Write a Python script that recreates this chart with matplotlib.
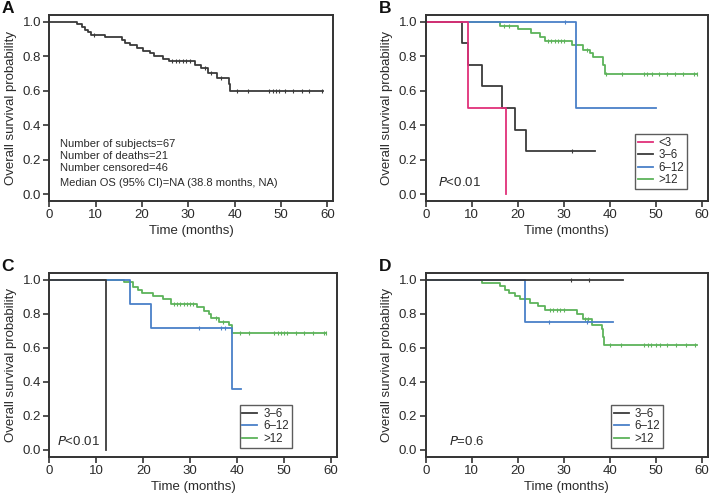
import numpy as np
import matplotlib
matplotlib.use("Agg")
import matplotlib.pyplot as plt

plt.rcParams['font.family'] = ['Liberation Sans', 'DejaVu Sans']

# colours
RED = '#e0307a'
BLACK = '#3a3a3a'
BLUE = '#4a80c8'
GREEN = '#5db35a'
TXT = '#2a2a2a'

# ---- panel A (all patients) ----
a_t = [6.0, 7.0, 7.6, 8.3, 9.1, 12.0, 15.7, 16.3, 17.4, 19.0, 20.2, 21.7, 22.7,
       24.5, 25.9, 31.4, 32.8, 34.2, 36.3, 38.7, 39.0]
a_s = [0.985, 0.970, 0.955, 0.940, 0.925, 0.910, 0.895, 0.880, 0.864, 0.849,
       0.833, 0.818, 0.802, 0.787, 0.770, 0.749, 0.730, 0.706, 0.677, 0.638, 0.597]
a_end = 59.0
a_cens = [9.6, 26.5, 27.3, 28.0, 28.8, 29.5, 30.3, 33.5, 35.0, 37.0, 40.6, 42.8,
          47.5, 48.2, 48.9, 49.6, 50.9, 52.7, 54.5, 56.1, 58.9]
a_notes = ['Number of subjects=67', 'Number of deaths=21', 'Number censored=46',
           'Median OS (95% CI)=NA (38.8 months, NA)']
a_note_y = [0.29, 0.22, 0.15, 0.065]

# ---- panel B ----
b_lt3_t = [9.3, 17.5]
b_lt3_s = [0.5, 0.0]
b_lt3_end = 17.5
b_lt3_cens = []

b_36_t = [7.8, 9.3, 12.3, 16.5, 19.4, 21.7]
b_36_s = [0.875, 0.75, 0.625, 0.5, 0.375, 0.25]
b_36_end = 36.8
b_36_cens = [31.7]

b_612_t = [32.7]
b_612_s = [0.5]
b_612_end = 50.0
b_612_cens = [30.3]

b_gt12_t = [16.2, 20.1, 22.9, 24.8, 26.0, 31.7, 34.3, 35.7, 36.4, 38.6, 38.9]
b_gt12_s = [0.978, 0.956, 0.933, 0.911, 0.889, 0.864, 0.839, 0.820, 0.797, 0.750, 0.698]
b_gt12_end = 59.0
b_gt12_cens = [17.0, 18.0, 26.6, 27.3, 28.0, 28.7, 29.4, 30.1, 35.0, 39.3, 42.6,
               47.5, 48.2, 49.2, 50.8, 52.4, 54.2, 55.9, 58.3, 59.0]

# ---- panel C ----
c_36_t = [12.05]
c_36_s = [0.0]
c_36_end = 12.05
c_36_cens = []

c_612_t = [17.2, 21.6, 38.8]
c_612_s = [0.857, 0.714, 0.357]
c_612_end = 40.9
c_612_cens = [31.8, 36.5, 37.5]

c_gt12_t = [16.0, 17.8, 18.8, 19.8, 22.0, 24.1, 25.8, 31.5, 32.9, 34.0, 34.5,
            36.1, 38.2, 38.8]
c_gt12_s = [0.983, 0.955, 0.937, 0.920, 0.904, 0.885, 0.859, 0.840, 0.817, 0.797,
            0.772, 0.748, 0.733, 0.688]
c_gt12_end = 59.0
c_gt12_cens = [26.5, 27.2, 27.9, 28.6, 29.3, 30.0, 30.6, 35.5, 37.0, 40.5, 42.5,
               47.9, 48.6, 49.3, 50.0, 50.7, 52.5, 54.3, 56.1, 58.5, 59.0]

# ---- panel D ----
d_36_t = []
d_36_s = []
d_36_end = 42.8
d_36_cens = [31.5, 35.5]

d_612_t = [21.6]
d_612_s = [0.75]
d_612_end = 40.8
d_612_cens = [26.7, 35.0]

d_gt12_t = [12.2, 16.1, 17.2, 18.0, 19.4, 20.5, 22.7, 24.5, 25.9, 32.8, 34.1,
            36.2, 38.3, 38.6, 38.8]
d_gt12_s = [0.980, 0.961, 0.941, 0.922, 0.902, 0.883, 0.863, 0.844, 0.824, 0.796,
            0.766, 0.733, 0.707, 0.660, 0.614]
d_gt12_end = 59.0
d_gt12_cens = [27.0, 27.7, 28.5, 29.3, 30.0, 34.6, 35.2, 40.0, 42.5, 47.5, 48.3,
               49.0, 50.0, 51.0, 52.5, 54.5, 56.5, 58.5]

xticks = [0, 10, 20, 30, 40, 50, 60]
yticks = [0.0, 0.2, 0.4, 0.6, 0.8, 1.0]


def km(ax, t, s, end, cens, color):
    x = [0.0] + list(t) + [end]
    y = [1.0] + list(s) + [s[-1] if len(s) else 1.0]
    ax.step(x, y, where='post', color=color, lw=1.3)
    if cens:
        cens = np.array(cens)
        idx = np.searchsorted(np.array(t), cens, side='right')
        yy = np.array([1.0] + list(s))[idx]
        ax.plot(cens, yy, ls='none', marker='|', ms=3, mew=0.8, color=color)


def style(ax, letter):
    ax.set_xlim(0, 61.3)
    ax.set_ylim(-0.04, 1.04)
    ax.set_xticks(xticks)
    ax.set_yticks(yticks)
    ax.set_yticklabels(['%.1f' % v for v in yticks])
    for sp in ax.spines.values():
        sp.set_linewidth(1.4)
        sp.set_color('#333333')
    ax.tick_params(direction='out', length=4, width=1.2, colors='#333333',
                   labelsize=9.5, labelcolor=TXT, pad=2)
    ax.set_xlabel('Time (months)', fontsize=9.5, color=TXT, labelpad=3)
    ax.set_ylabel('Overall survival probability', fontsize=9.5, color=TXT, labelpad=4)
    ax.text(-0.167, 1.035, letter, transform=ax.transAxes, fontsize=12.5,
            fontweight='bold', color='#111111', ha='left', va='center')


def legend(ax, handles, labels, x0, y0):
    leg = ax.legend(handles, labels, loc='upper left', bbox_to_anchor=(x0, y0),
                    bbox_transform=ax.transData, fontsize=8.3, fancybox=False,
                    handlelength=1.3, handletextpad=0.5, borderpad=0.25,
                    labelspacing=0.05, borderaxespad=0)
    leg.get_frame().set_edgecolor('#333333')
    leg.get_frame().set_linewidth(1.0)
    for t in leg.get_texts():
        t.set_color(TXT)


fig = plt.figure(figsize=(7.11, 5.01), dpi=100)
W, H = 711.0, 501.0
axA = fig.add_axes([49.3 / W, 1 - 201 / H, 284 / W, 186 / H])
axB = fig.add_axes([425.7 / W, 1 - 201 / H, 282 / W, 186 / H])
axC = fig.add_axes([49.3 / W, 1 - 456.7 / H, 288 / W, 184 / H])
axD = fig.add_axes([425.7 / W, 1 - 456.7 / H, 282 / W, 184 / H])

# A
km(axA, a_t, a_s, a_end, a_cens, BLACK)
for txt, yv in zip(a_notes, a_note_y):
    axA.text(2.3, yv, txt, fontsize=8, color=TXT, va='center')
style(axA, 'A')

# B
km(axB, b_gt12_t, b_gt12_s, b_gt12_end, b_gt12_cens, GREEN)
km(axB, b_612_t, b_612_s, b_612_end, b_612_cens, BLUE)
km(axB, b_36_t, b_36_s, b_36_end, b_36_cens, BLACK)
km(axB, b_lt3_t, b_lt3_s, b_lt3_end, b_lt3_cens, RED)
hB = [plt.Line2D([], [], color=c, lw=1.3) for c in [RED, BLACK, BLUE, GREEN]]
legend(axB, hB, ['<3', '3\u20136', '6\u201312', '>12'], 45.5, 0.35)
axB.text(2.7, 0.07, r'$\it{P}$<0.01', fontsize=9.5, color=TXT, va='center')
style(axB, 'B')

# C
km(axC, c_gt12_t, c_gt12_s, c_gt12_end, c_gt12_cens, GREEN)
km(axC, c_612_t, c_612_s, c_612_end, c_612_cens, BLUE)
km(axC, c_36_t, c_36_s, c_36_end, c_36_cens, BLACK)
hC = [plt.Line2D([], [], color=c, lw=1.3) for c in [BLACK, BLUE, GREEN]]
legend(axC, hC, ['3\u20136', '6\u201312', '>12'], 40.5, 0.265)
axC.text(1.6, 0.05, r'$\it{P}$<0.01', fontsize=9.5, color=TXT, va='center')
style(axC, 'C')

# D
km(axD, d_gt12_t, d_gt12_s, d_gt12_end, d_gt12_cens, GREEN)
km(axD, d_612_t, d_612_s, d_612_end, d_612_cens, BLUE)
km(axD, d_36_t, d_36_s, d_36_end, d_36_cens, BLACK)
hD = [plt.Line2D([], [], color=c, lw=1.3) for c in [BLACK, BLUE, GREEN]]
legend(axD, hD, ['3\u20136', '6\u201312', '>12'], 40.3, 0.265)
axD.text(5.1, 0.05, r'$\it{P}$=0.6', fontsize=9.5, color=TXT, va='center')
style(axD, 'D')

fig.savefig('out.png', dpi=100)
